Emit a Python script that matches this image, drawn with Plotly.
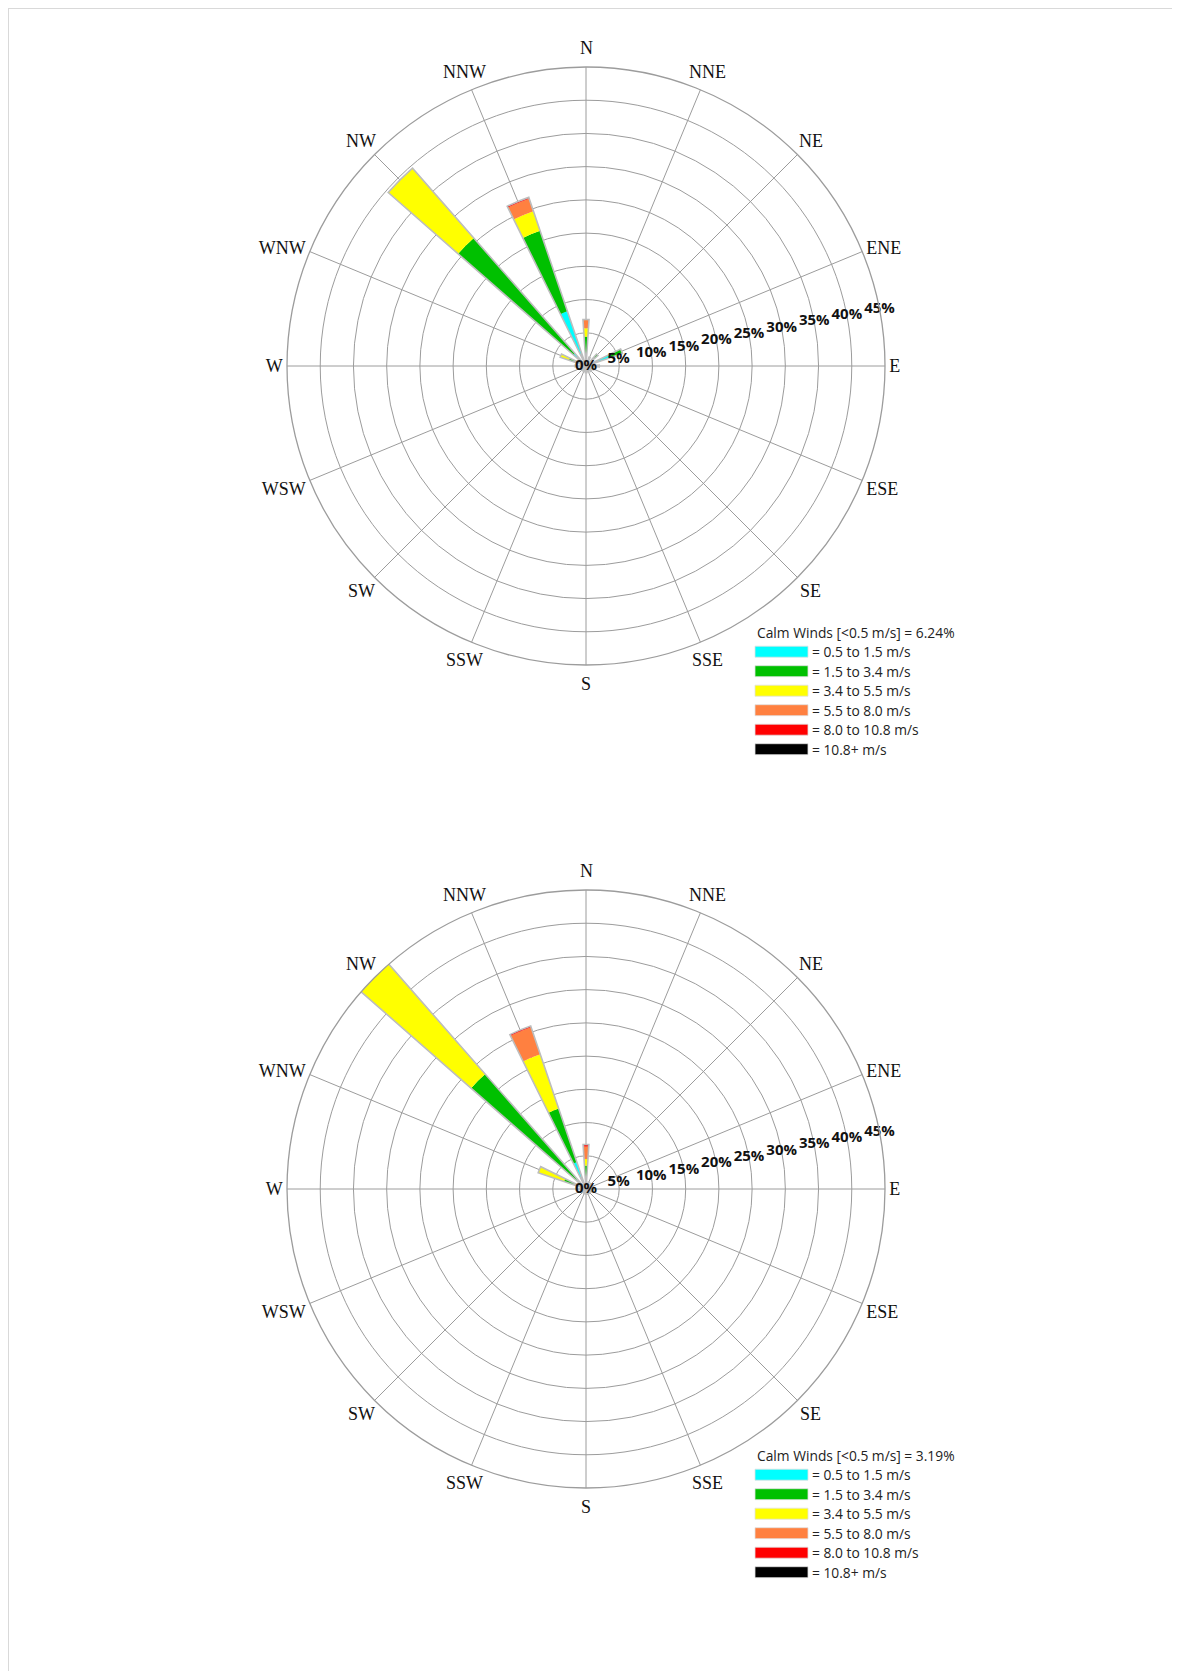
import math
import plotly.graph_objects as go

# ---------------- data ----------------
directions = ['N', 'NNE', 'NE', 'ENE', 'E', 'ESE', 'SE', 'SSE',
              'S', 'SSW', 'SW', 'WSW', 'W', 'WNW', 'NW', 'NNW']
dir_angles = [i * 22.5 for i in range(16)]

speed_bins = ['0.5 to 1.5 m/s', '1.5 to 3.4 m/s', '3.4 to 5.5 m/s',
              '5.5 to 8.0 m/s', '8.0 to 10.8 m/s', '10.8+ m/s']
bin_colors = ['#00FFFF', '#00C000', '#FFFF00', '#FF8040', '#FF0000', '#000000']

# chart 1 (top), % frequency per direction and speed class
top_cyan   = [1.5, 1.0, 1.3, 4.0, 1.5, 1.0, 0.8, 0.8, 0.8, 0.7, 0.7, 0.8, 1.0, 1.2, 2.5, 8.7]
top_green  = [2.9, 0.4, 1.1, 1.8, 0.5, 0.3, 0.3, 0.2, 0.2, 0.2, 0.2, 0.3, 0.5, 1.5, 23.1, 12.8]
top_yellow = [1.3, 0, 0, 0, 0, 0, 0, 0, 0, 0, 0, 0, 0.2, 1.4, 14.0, 3.1]
top_orange = [1.3, 0, 0, 0, 0, 0, 0, 0, 0, 0, 0, 0, 0, 0, 0, 2.0]
top_red    = [0, 0, 0, 0, 0, 0, 0, 0, 0, 0, 0, 0, 0, 0, 0, 0.2]
top_black  = [0] * 16
top_calm = 6.24

# chart 2 (bottom)
bot_cyan   = [1.5, 0.8, 0.8, 0.8, 0.8, 0.7, 0.6, 0.6, 0.6, 0.5, 0.5, 0.6, 0.8, 1.5, 2.0, 4.3]
bot_green  = [2.0, 0.3, 0.3, 0.3, 0.3, 0.2, 0.2, 0.2, 0.2, 0.2, 0.2, 0.3, 0.5, 2.0, 21.0, 8.5]
bot_yellow = [1.0, 0, 0, 0, 0, 0, 0, 0, 0, 0, 0, 0, 0.2, 4.1, 24.7, 8.6]
bot_orange = [1.9, 0, 0, 0, 0, 0, 0, 0, 0, 0, 0, 0, 0, 0, 0.9, 4.3]
bot_red    = [0.3, 0, 0, 0, 0, 0, 0, 0, 0, 0, 0, 0, 0, 0, 0, 0.2]
bot_black  = [0] * 16
bot_calm = 3.19

radial_ticks = [0, 5, 10, 15, 20, 25, 30, 35, 40, 45]
radial_labels = ['0%', '5%', '10%', '15%', '20%', '25%', '30%', '35%', '40%', '45%']

# ---------------- figure ----------------
W, H = 1164, 1663
OFF = 8


def X(sx):
    return (sx - OFF) / W


def Y(sy):
    return 1 - (sy - OFF) / H


GRID = '#9c9c9c'
fig = go.Figure()

charts = [
    ('polar', [top_cyan, top_green, top_yellow, top_orange, top_red, top_black], top_calm, 366),
    ('polar2', [bot_cyan, bot_green, bot_yellow, bot_orange, bot_red, bot_black], bot_calm, 1189),
]

# near-horizontal direction names use the axis tick labels,
# the others are centred text just outside the rim
side_mask = [abs(math.sin(math.radians(a))) > 0.9 for a in dir_angles]
axis_text = [d if s else '' for d, s in zip(directions, side_mask)]

R = 299          # px radius of the 45 % ring
R_LABEL = 318    # px radius of centred direction names
CX = 586
for sub, series, calm, cy in charts:
    base = [0.0] * 16
    for vals, col, name in zip(series, bin_colors, speed_bins):
        fig.add_trace(go.Barpolar(
            r=vals, theta=dir_angles, base=list(base), width=7.5,
            marker=dict(color=col, line=dict(width=0)),
            name=name, subplot=sub, showlegend=False,
        ))
        base = [b + v for b, v in zip(base, vals)]
    # outline of whole stacked bar
    fig.add_trace(go.Barpolar(
        r=base, theta=dir_angles, base=[0] * 16, width=7.5,
        marker=dict(color='rgba(0,0,0,0)', line=dict(width=1.6, color='#bdbdbd')),
        subplot=sub, showlegend=False, hoverinfo='skip',
    ))
    # radial percentage labels
    fig.add_trace(go.Scatterpolar(
        r=radial_ticks, theta=[79] * len(radial_ticks), text=radial_labels,
        mode='text', subplot=sub, showlegend=False, cliponaxis=False,
        textfont=dict(family='Open Sans', size=15, color='#111111', weight='bold'),
    ))

    polar_layout = dict(
        domain=dict(x=[X(CX - R), X(CX + R)], y=[Y(cy + R), Y(cy - R)]),
        bgcolor='white',
        radialaxis=dict(range=[0, 45], tickvals=radial_ticks[1:], showticklabels=False,
                        showline=False, ticks='', gridcolor=GRID, gridwidth=1.3),
        angularaxis=dict(direction='clockwise', rotation=90, tickmode='array',
                         tickvals=dir_angles, ticktext=axis_text, ticks='',
                         showline=True, linecolor=GRID, linewidth=1.3,
                         gridcolor=GRID, gridwidth=1.3,
                         tickfont=dict(family='Liberation Serif', size=18, color='#111111')),
    )
    fig.update_layout({sub: polar_layout})

    # remaining direction names, centred beyond the rim
    for ang, name, side in zip(dir_angles, directions, side_mask):
        if side:
            continue
        a = math.radians(ang)
        fig.add_annotation(x=X(CX + R_LABEL * math.sin(a)), y=Y(cy - R_LABEL * math.cos(a)),
                           xref='paper', yref='paper', text=name, showarrow=False,
                           xanchor='center', yanchor='middle',
                           font=dict(family='Liberation Serif', size=18, color='#111111'))

    # legend (drawn)
    ly = cy + 266.7
    fig.add_annotation(x=X(755), y=Y(ly), xref='paper', yref='paper',
                       text=f'Calm Winds [<0.5 m/s] = {calm:.2f}%', showarrow=False,
                       xanchor='left', yanchor='middle',
                       font=dict(family='Open Sans', size=13.8, color='#222222'))
    for i, (col, name) in enumerate(zip(bin_colors, speed_bins)):
        yy = cy + 285.7 + i * 19.5
        fig.add_shape(type='rect', xref='paper', yref='paper',
                      x0=X(755), x1=X(808), y0=Y(yy - 5.5), y1=Y(yy + 5.5),
                      fillcolor=col, line=dict(width=0.8, color='#e0e0e0'))
        fig.add_annotation(x=X(810), y=Y(yy), xref='paper', yref='paper',
                           text=f'= {name}', showarrow=False,
                           xanchor='left', yanchor='middle',
                           font=dict(family='Open Sans', size=13.8, color='#222222'))

# page border (top and left edges)
fig.add_shape(type='line', xref='paper', yref='paper', x0=0, x1=1, y0=1, y1=1,
              line=dict(color='#d9d9d9', width=2))
fig.add_shape(type='line', xref='paper', yref='paper', x0=0, x1=0, y0=0, y1=1,
              line=dict(color='#d9d9d9', width=2))

fig.update_layout(
    width=W, height=H, margin=dict(l=0, r=0, t=0, b=0),
    paper_bgcolor='white', plot_bgcolor='white', showlegend=False,
    barmode='overlay',
)

fig.write_html('out.html')
